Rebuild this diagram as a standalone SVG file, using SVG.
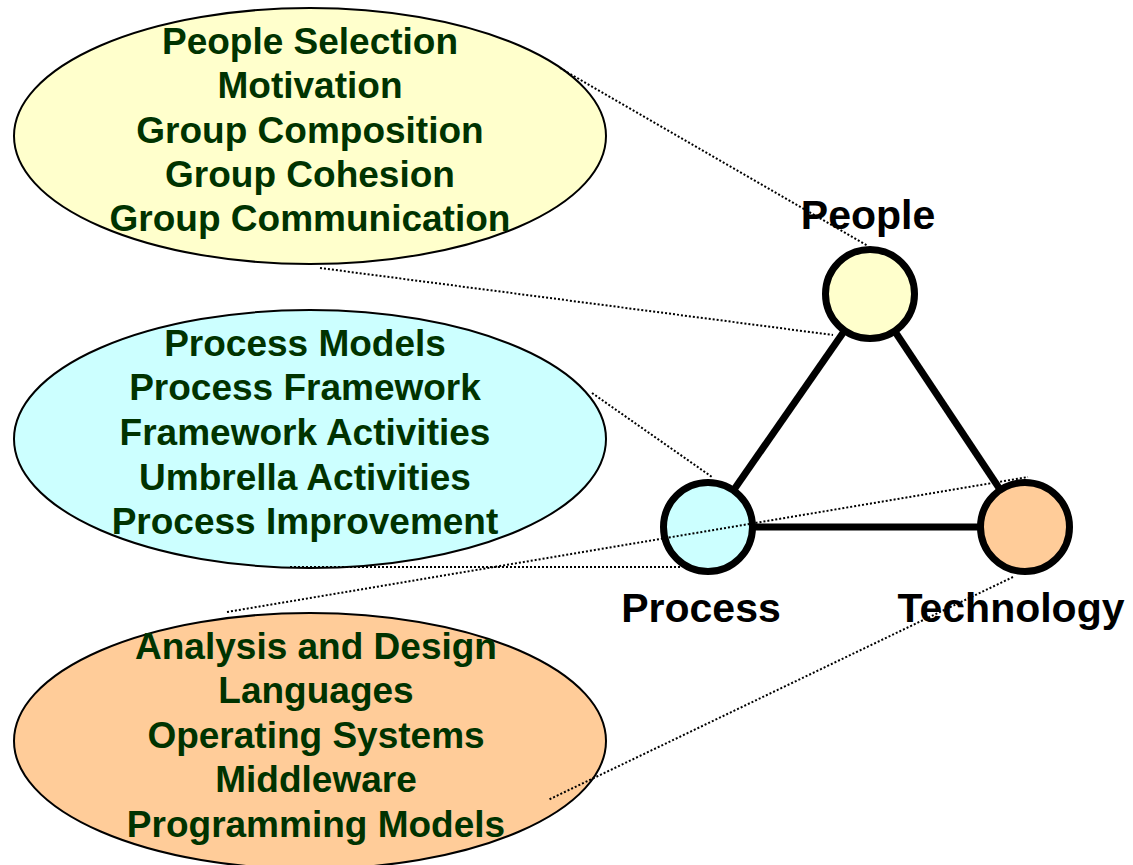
<svg xmlns="http://www.w3.org/2000/svg" width="1133" height="865" viewBox="0 0 1133 865">
  <style>
    .bubble { stroke: #000; stroke-width: 2; }
    .topic { font-family: "Liberation Sans", Arial, sans-serif; font-weight: bold; font-size: 37px; fill: #003300; text-anchor: middle; }
    .label { font-family: "Liberation Sans", Arial, sans-serif; font-weight: bold; font-size: 41px; fill: #000; text-anchor: middle; }
    .edge { stroke: #000; stroke-width: 7; }
    .hub { stroke: #000; stroke-width: 7; }
    .link { stroke: #000; stroke-width: 2; stroke-dasharray: 2 2; fill: none; }
  </style>
  <rect width="1133" height="865" fill="#fff"/>

  <!-- topic bubbles -->
  <g id="people-topics">
    <ellipse class="bubble" cx="310" cy="136" rx="296" ry="128" fill="#FFFFCC"/>
    <text class="topic" x="310" y="54">People Selection</text>
    <text class="topic" x="310" y="98">Motivation</text>
    <text class="topic" x="310" y="143">Group Composition</text>
    <text class="topic" x="310" y="187">Group Cohesion</text>
    <text class="topic" x="310" y="231">Group Communication</text>
  </g>
  <g id="process-topics">
    <ellipse class="bubble" cx="310" cy="439" rx="296" ry="129" fill="#CCFFFF"/>
    <text class="topic" x="305" y="356">Process Models</text>
    <text class="topic" x="305" y="400">Process Framework</text>
    <text class="topic" x="305" y="445">Framework Activities</text>
    <text class="topic" x="305" y="490">Umbrella Activities</text>
    <text class="topic" x="305" y="534">Process Improvement</text>
  </g>
  <g id="technology-topics">
    <ellipse class="bubble" cx="310" cy="741" rx="296" ry="128" fill="#FFCC99"/>
    <text class="topic" x="316" y="659">Analysis and Design</text>
    <text class="topic" x="316" y="703">Languages</text>
    <text class="topic" x="316" y="748">Operating Systems</text>
    <text class="topic" x="316" y="792">Middleware</text>
    <text class="topic" x="316" y="837">Programming Models</text>
  </g>

  <!-- triangle edges -->
  <g id="edges">
    <line class="edge" x1="870" y1="294" x2="708" y2="527"/>
    <line class="edge" x1="870" y1="294" x2="1025" y2="527"/>
    <line class="edge" x1="708" y1="527" x2="1025" y2="527"/>
  </g>

  <g id="people">
    <circle class="hub" cx="870" cy="294" r="44.5" fill="#FFFFCC"/>
    <text class="label" x="868" y="229">People</text>
  </g>
  <g id="process">
    <circle class="hub" cx="708" cy="527" r="44.5" fill="#CCFFFF"/>
    <text class="label" x="701" y="622">Process</text>
  </g>
  <g id="technology">
    <circle class="hub" cx="1025" cy="527" r="44.5" fill="#FFCC99"/>
    <text class="label" x="1011" y="622">Technology</text>
  </g>

  <!-- dotted callout connectors -->
  <g id="connectors">
    <line class="link" x1="560" y1="68" x2="868" y2="246"/>
    <line class="link" x1="320" y1="268" x2="833" y2="335"/>
    <line class="link" x1="592" y1="393" x2="712" y2="477"/>
    <line class="link" x1="290" y1="567" x2="680" y2="567"/>
    <line class="link" x1="227" y1="612" x2="1028" y2="477"/>
    <line class="link" x1="1013" y1="577" x2="548" y2="800"/>
  </g>
</svg>
